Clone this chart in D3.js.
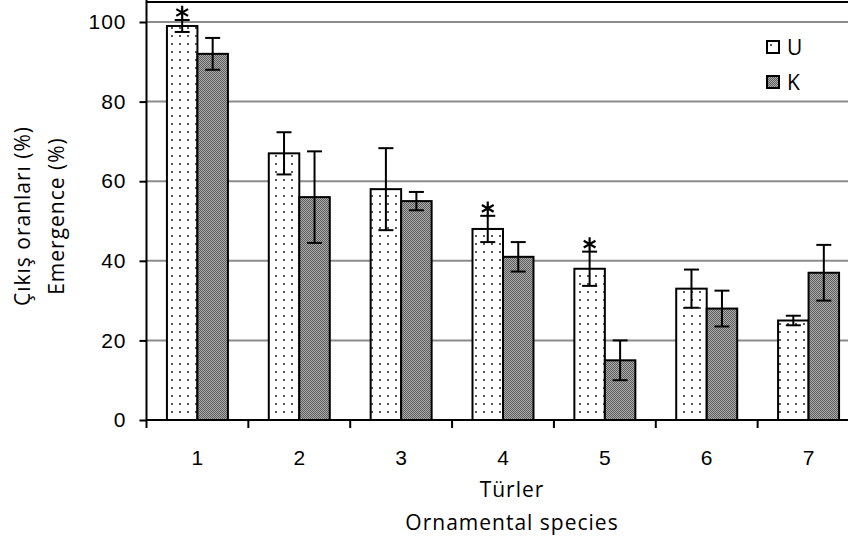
<!DOCTYPE html>
<html>
<head>
<meta charset="utf-8">
<script src="https://cdn.jsdelivr.net/npm/d3@7"></script>
<style>
  body { margin: 0; background: #fff; }
  svg { display: block; font-family: "Open Sans", Lato, sans-serif; }
  svg text { letter-spacing: 1px; }
</style>
</head>
<body>
<div id="chart"></div>
<script>
/* Emergence (%) of ornamental species, U vs K, with error bars;
   asterisks mark significant differences. */
var categories = ["1", "2", "3", "4", "5", "6", "7"];
var seriesNames = ["U", "K"];
var uValues = [99, 67, 58, 48, 38, 33, 25];
var uErrors = [1.5, 5.3, 10.3, 3.3, 4.3, 4.8, 1.2];
var kValues = [92, 56, 55, 41, 15, 28, 37];
var kErrors = [4, 11.5, 2.3, 3.7, 5, 4.5, 7];
var starred = ["1", "4", "5"];          // significant (U series)
var yTicks = [0, 20, 40, 60, 80, 100];

(function () {
  var W = 848, H = 542;
  var left = 146.5, right = 859.5, top = 22, bottom = 420;
  var FS = 21;
  var svg = d3.select("#chart").append("svg")
    .attr("width", W).attr("height", H)
    .attr("viewBox", "0 0 " + W + " " + H);

  var defs = svg.append("defs");
  // dotted fill for U
  var pu = defs.append("pattern").attr("id", "pU")
    .attr("patternUnits", "userSpaceOnUse").attr("width", 8).attr("height", 8);
  pu.append("rect").attr("width", 8).attr("height", 8).attr("fill", "#fff");
  pu.append("rect").attr("x", 3).attr("y", 3).attr("width", 2).attr("height", 2)
    .attr("fill", "#5a5a5a");
  // fine checker fill for K
  var pk = defs.append("pattern").attr("id", "pK")
    .attr("patternUnits", "userSpaceOnUse").attr("width", 4).attr("height", 4);
  pk.append("rect").attr("width", 4).attr("height", 4).attr("fill", "#adadad");
  [[0, 0], [2, 0], [1, 1], [3, 1], [0, 2], [2, 2], [1, 3], [3, 3]].forEach(function (p) {
    pk.append("rect").attr("x", p[0]).attr("y", p[1]).attr("width", 1).attr("height", 1)
      .attr("fill", "#5c5c5c").attr("shape-rendering", "crispEdges");
  });

  var x = d3.scaleBand().domain(categories).range([left, right]).padding(0);
  var xs = d3.scaleBand().domain(seriesNames).range([0, x.bandwidth()])
    .paddingInner(0).paddingOuter(0.67);
  var y = d3.scaleLinear().domain([0, 100]).range([bottom, top]);

  var rows = categories.map(function (c, i) {
    return [
      { cat: c, s: "U", v: uValues[i], e: uErrors[i], fill: "url(#pU)" },
      { cat: c, s: "K", v: kValues[i], e: kErrors[i], fill: "url(#pK)" }
    ];
  });
  var flat = d3.merge(rows);

  // plot border (top) and gridlines
  svg.append("line").attr("x1", left).attr("x2", W).attr("y1", 2).attr("y2", 2)
    .attr("stroke", "#000").attr("stroke-width", 2);
  svg.append("g").selectAll("line").data(yTicks.filter(function (t) { return t > 0; }))
    .join("line")
    .attr("x1", left).attr("x2", right)
    .attr("y1", function (d) { return y(d); }).attr("y2", function (d) { return y(d); })
    .attr("stroke", "#8c8c8c").attr("stroke-width", 2);

  // bars
  svg.append("g").selectAll("rect").data(flat).join("rect")
    .attr("x", function (d) { return x(d.cat) + xs(d.s); })
    .attr("y", function (d) { return y(d.v); })
    .attr("width", xs.bandwidth())
    .attr("height", function (d) { return y(0) - y(d.v); })
    .attr("fill", function (d) { return d.fill; })
    .attr("stroke", "#000").attr("stroke-width", 2);

  // error bars
  var eb = svg.append("g").attr("stroke", "#000").attr("stroke-width", 2)
    .selectAll("g").data(flat).join("g");
  function cx(d) { return x(d.cat) + xs(d.s) + xs.bandwidth() / 2; }
  eb.append("line")
    .attr("x1", cx).attr("x2", cx)
    .attr("y1", function (d) { return y(d.v + d.e); })
    .attr("y2", function (d) { return y(d.v - d.e); });
  [1, -1].forEach(function (sgn) {
    eb.append("line")
      .attr("x1", function (d) { return cx(d) - 7.5; })
      .attr("x2", function (d) { return cx(d) + 7.5; })
      .attr("y1", function (d) { return y(d.v + sgn * d.e); })
      .attr("y2", function (d) { return y(d.v + sgn * d.e); });
  });

  // asterisks above the U error bars
  svg.append("g").selectAll("path")
    .data(flat.filter(function (d) { return d.s === "U" && starred.indexOf(d.cat) >= 0; }))
    .join("path")
    .attr("transform", function (d) {
      return "translate(" + cx(d) + "," + (y(d.v + d.e) - 7.5) + ")";
    })
    .attr("d", d3.symbol(d3.symbolAsterisk, 130))
    .attr("fill", "none").attr("stroke", "#000").attr("stroke-width", 2.2);

  // y axis
  var ya = svg.append("g").attr("transform", "translate(" + left + ",0)")
    .call(d3.axisLeft(y).tickValues(yTicks).tickSize(7).tickPadding(14));
  ya.select(".domain").attr("stroke-width", 2).attr("d", "M0,0V" + bottom);
  ya.selectAll(".tick line").attr("stroke-width", 2);
  ya.selectAll(".tick text").attr("font-size", FS).attr("fill", "#000")
    .attr("font-family", null).attr("dx", 1);

  // x axis: labels centred on categories, ticks at category boundaries
  var xa = svg.append("g").attr("transform", "translate(0," + bottom + ")")
    .call(d3.axisBottom(x).tickSize(0).tickPadding(30));
  xa.select(".domain").attr("stroke-width", 2).attr("d", "M" + left + ",0H" + right);
  xa.selectAll(".tick text").attr("font-size", FS).attr("fill", "#000")
    .attr("font-family", null).attr("dx", 0.5);
  var bounds = categories.map(function (c) { return x(c); }).concat([right]);
  xa.append("g").selectAll("line").data(bounds).join("line")
    .attr("x1", function (d) { return d; }).attr("x2", function (d) { return d; })
    .attr("y1", 0).attr("y2", 8)
    .attr("stroke", "#000").attr("stroke-width", 2);

  // axis titles
  svg.append("text").attr("x", 512).attr("y", 490).attr("dy", "0.35em")
    .attr("text-anchor", "middle").attr("font-size", FS).text("Türler");
  svg.append("text").attr("x", 512).attr("y", 523).attr("dy", "0.35em")
    .attr("text-anchor", "middle").attr("font-size", FS).text("Ornamental species");
  var yt = [["Çıkış oranları (%)", 23], ["Emergence (%)", 57]];
  svg.append("g").selectAll("text").data(yt).join("text")
    .attr("transform", function (d) { return "translate(" + d[1] + ",216) rotate(-90)"; })
    .attr("dy", "0.35em").attr("text-anchor", "middle").attr("font-size", FS)
    .text(function (d) { return d[0]; });

  // legend
  var lg = svg.append("g").selectAll("g").data([["U", "url(#pU)"], ["K", "url(#pK)"]])
    .join("g")
    .attr("transform", function (d, i) { return "translate(767," + (41 + i * 35) + ")"; });
  lg.append("rect").attr("width", 12).attr("height", 12)
    .attr("fill", function (d) { return d[1]; })
    .attr("stroke", "#000").attr("stroke-width", 2);
  lg.append("text").attr("x", 20).attr("y", 7).attr("dy", "0.35em")
    .attr("font-size", FS).text(function (d) { return d[0]; });
})();
</script>
</body>
</html>
